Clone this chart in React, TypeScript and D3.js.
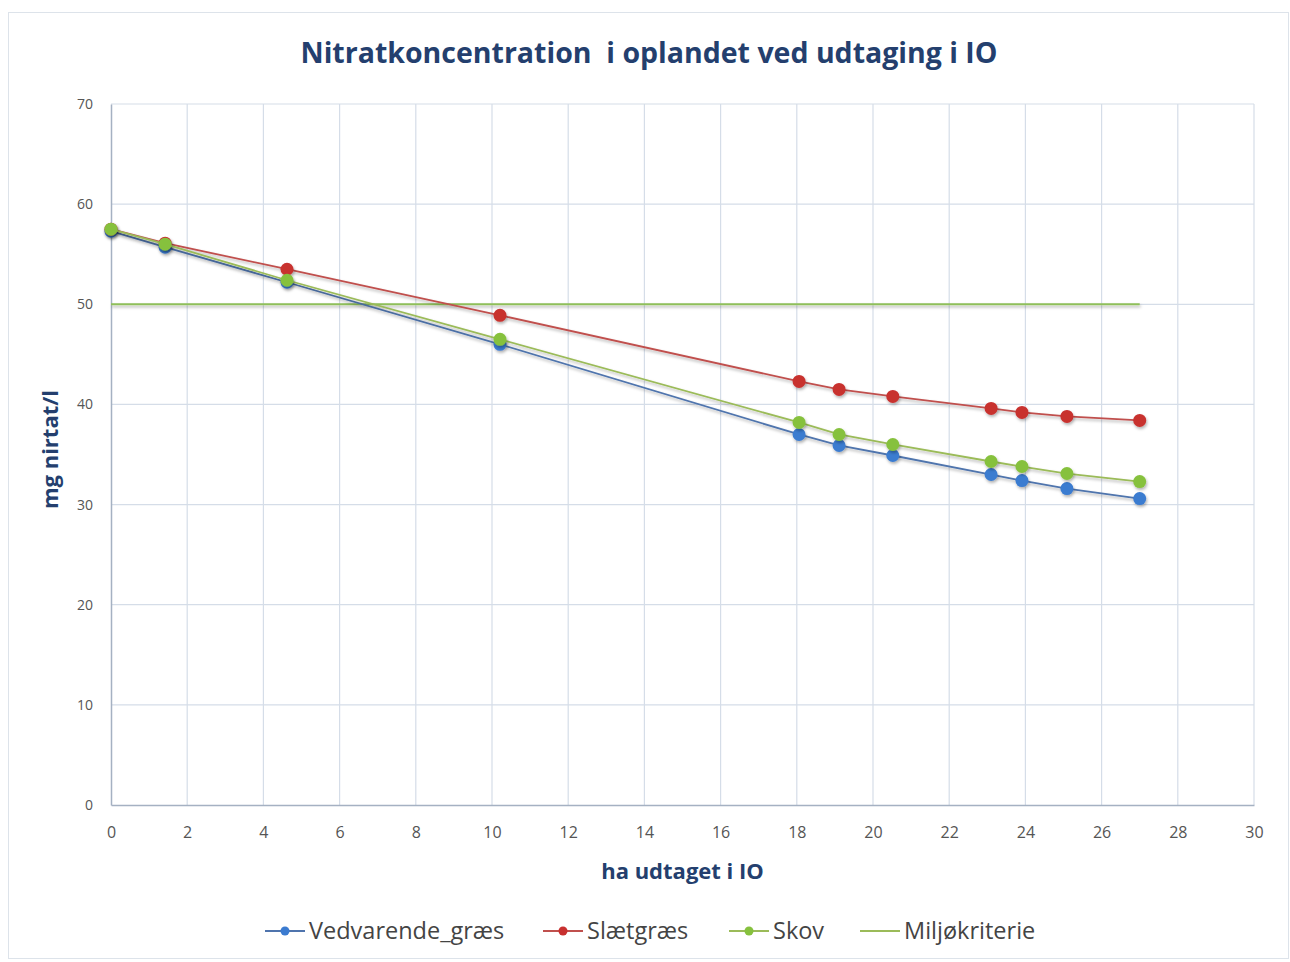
import React, { useEffect, useRef } from "react";
import * as d3 from "d3";

const xValues = [0, 1.42, 4.62, 10.21, 18.06, 19.11, 20.52, 23.1, 23.91, 25.09, 27.0];
const vedvarende = [57.3, 55.7, 52.2, 46.0, 37.0, 35.9, 34.9, 33.0, 32.4, 31.6, 30.6];
const slaetgraes = [57.5, 56.1, 53.5, 48.9, 42.3, 41.5, 40.8, 39.6, 39.2, 38.8, 38.4];
const skov = [57.5, 56.0, 52.4, 46.5, 38.2, 37.0, 36.0, 34.3, 33.8, 33.1, 32.3];
const miljoX = [0, 27];
const miljoY = [50, 50];
const xTicks = d3.range(0, 31, 2);
const yTicks = d3.range(0, 71, 10);

export default function App() {
  const ref = useRef<SVGSVGElement>(null);

  useEffect(() => {
    draw();
  }, []);

  const draw = () => {
    const svg = d3.select(ref.current);
    svg.selectAll("*").remove();

    const width = 1290;
    const height = 962;
    const font = "'Open Sans', 'Noto Sans', sans-serif";

    const x = d3.scaleLinear().domain([0, 30]).range([111, 1254]);
    const y = d3.scaleLinear().domain([0, 70]).range([805, 104]);

    const defs = svg.append("defs");
    const shadow = defs.append("filter").attr("id", "shadow")
      .attr("filterUnits", "userSpaceOnUse")
      .attr("x", 0).attr("y", 0).attr("width", width).attr("height", height);
    shadow.append("feDropShadow").attr("dx", 1).attr("dy", 2).attr("stdDeviation", 1.5)
      .attr("flood-color", "#000").attr("flood-opacity", 0.3);

    svg.append("rect").attr("width", width).attr("height", height).attr("fill", "#fff");
    svg.append("rect")
      .attr("x", 8.5).attr("y", 12.5).attr("width", 1280).attr("height", 946)
      .attr("fill", "#fff").attr("stroke", "#dde3ea");

    svg.append("text")
      .attr("x", 649).attr("y", 63)
      .attr("text-anchor", "middle")
      .attr("font-family", font).attr("font-weight", "bold")
      .attr("font-size", 28.5).attr("fill", "#243f6e")
      .text("Nitratkoncentration  i oplandet ved udtaging i IO")
      .style("white-space", "pre");

    // grid
    svg.append("g").selectAll("line").data(xTicks.slice(1)).enter().append("line")
      .attr("x1", (d) => x(d)).attr("x2", (d) => x(d))
      .attr("y1", y(70)).attr("y2", y(0))
      .attr("stroke", "#d5dde8").attr("stroke-width", 1.2);
    svg.append("g").selectAll("line").data(yTicks.slice(1)).enter().append("line")
      .attr("x1", x(0)).attr("x2", x(30))
      .attr("y1", (d) => y(d)).attr("y2", (d) => y(d))
      .attr("stroke", "#d5dde8").attr("stroke-width", 1.2);

    // axes
    const xAxis = svg.append("g")
      .attr("transform", `translate(0, ${y(0)})`)
      .call(d3.axisBottom(x).tickValues(xTicks).tickSize(0).tickPadding(22));
    xAxis.select(".domain").attr("stroke", "#a5b1c2").attr("stroke-width", 1.5);
    xAxis.selectAll("text").attr("font-family", font).attr("font-size", 16).attr("fill", "#555");

    const yAxis = svg.append("g")
      .attr("transform", `translate(${x(0)}, 0)`)
      .call(d3.axisLeft(y).tickValues(yTicks).tickSize(0).tickPadding(18));
    yAxis.select(".domain").attr("stroke", "#a5b1c2").attr("stroke-width", 1.5);
    yAxis.selectAll("text").attr("font-family", font).attr("font-size", 14).attr("fill", "#555");

    svg.append("text")
      .attr("x", x(15)).attr("y", 879)
      .attr("text-anchor", "middle")
      .attr("font-family", font).attr("font-weight", "bold")
      .attr("font-size", 22).attr("fill", "#243f6e")
      .text("ha udtaget i IO");

    svg.append("text")
      .attr("transform", `translate(58, ${y(35) - 5}) rotate(-90)`)
      .attr("text-anchor", "middle")
      .attr("font-family", font).attr("font-weight", "bold")
      .attr("font-size", 22).attr("fill", "#243f6e")
      .text("mg nirtat/l");

    // miljøkriterie
    const line = d3.line<[number, number]>().x((d) => x(d[0])).y((d) => y(d[1]));
    const miljo = miljoX.map((v, i) => [v, miljoY[i]] as [number, number]);
    svg.append("path").datum(miljo).attr("d", line)
      .attr("fill", "none").attr("stroke", "#8fbf5a").attr("stroke-width", 2)
      .attr("filter", "url(#shadow)");

    const series = [
      { name: "Vedvarende_græs", values: vedvarende, line: "#4f74ad", dot: "#3b7bd0" },
      { name: "Slætgræs", values: slaetgraes, line: "#c0504d", dot: "#c8302f" },
      { name: "Skov", values: skov, line: "#9bbb59", dot: "#86c13e" },
    ];

    series.forEach((s) => {
      const pts = xValues.map((v, i) => [v, s.values[i]] as [number, number]);
      svg.append("path").datum(pts).attr("d", line)
        .attr("fill", "none").attr("stroke", s.line).attr("stroke-width", 1.8)
        .attr("filter", "url(#shadow)");
      svg.append("g").selectAll("circle").data(pts).enter().append("circle")
        .attr("cx", (d) => x(d[0])).attr("cy", (d) => y(d[1]))
        .attr("r", 6.5).attr("fill", s.dot)
        .attr("filter", "url(#shadow)");
    });

    // legend
    const legend = [
      { name: "Vedvarende_græs", color: "#4f74ad", dot: "#3b7bd0", x: 265 },
      { name: "Slætgræs", color: "#c0504d", dot: "#c8302f", x: 543 },
      { name: "Skov", color: "#9bbb59", dot: "#86c13e", x: 729 },
      { name: "Miljøkriterie", color: "#9bbb59", dot: null, x: 860 },
    ];
    legend.forEach((l) => {
      const g = svg.append("g").attr("transform", `translate(${l.x}, 931)`);
      g.append("line").attr("x1", 0).attr("x2", 40).attr("stroke", l.color).attr("stroke-width", 1.8);
      if (l.dot) g.append("circle").attr("cx", 20).attr("r", 4.5).attr("fill", l.dot);
      g.append("text").attr("x", 44).attr("y", 8)
        .attr("font-family", font).attr("font-size", 23.5).attr("fill", "#444")
        .text(l.name);
    });
  };

  return (
    <svg
      ref={ref}
      width={1290}
      height={962}
      style={{ position: "absolute", left: 0, top: 0 }}
    />
  );
}
